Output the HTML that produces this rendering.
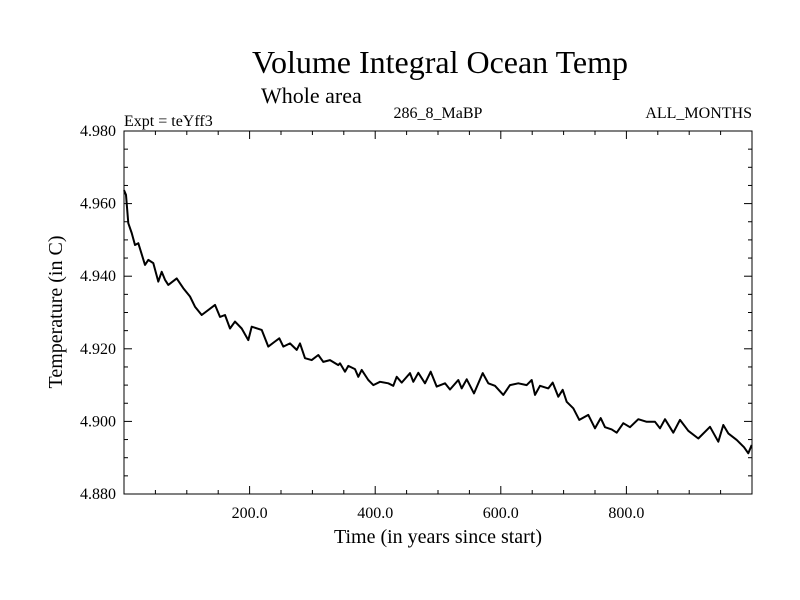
<!DOCTYPE html>
<html><head><meta charset="utf-8"><style>
html,body{margin:0;padding:0;background:#fff;}
svg{display:block;font-family:"Liberation Serif",serif;}
</style></head><body>
<svg id="chart" width="800" height="600" viewBox="0 0 800 600">
<rect x="0" y="0" width="800" height="600" fill="#fff"/>
<text x="440" y="73" font-size="32" text-anchor="middle">Volume Integral Ocean Temp</text>
<text x="261" y="103" font-size="22">Whole area</text>
<text x="124" y="126" font-size="16">Expt = teYff3</text>
<text x="438" y="118" font-size="16" text-anchor="middle">286_8_MaBP</text>
<text x="752" y="118" font-size="16" text-anchor="end">ALL_MONTHS</text>
<g id="axes"></g>
<path id="series" fill="none" stroke="#000" stroke-width="2" stroke-linejoin="round"/>
<rect x="124" y="131" width="628" height="363" fill="none" stroke="#000" stroke-width="1"/>
<text x="438" y="543" font-size="20" text-anchor="middle">Time (in years since start)</text>
<text transform="translate(62,312) rotate(-90)" font-size="20" text-anchor="middle">Temperature (in C)</text>
</svg>
<script>
const years=[0,3.2,6.8,12.3,17.5,22.8,33.4,38.7,46.7,54.6,60,65.3,70.5,83.9,94.4,105.1,113.1,123.7,144.9,152.9,160.8,168.8,176.8,187.4,197.9,203.3,219.3,229.8,240.4,247.3,253.7,264.3,275,280.3,288.2,298.9,309.4,317.4,328,341.2,343.9,351.9,357.2,367.8,373.1,378.5,389,397,407.6,420.9,428.8,434.2,442.2,455.4,460.7,468.6,479.3,488.4,497.9,511.1,519.1,532.3,537.7,545.7,557.3,571.2,580.1,590.8,604,614.6,627.9,641.2,649.2,654.5,662.4,675.6,682.6,691.6,698.6,705,715.4,725,739.3,750,759.1,765.9,776.6,784.6,795.1,805.7,819,832.3,845.5,853.5,861.5,874.7,885.4,898.6,914.5,933.1,946.3,954.3,962.3,975.6,987.3,994.1,999.5];
const temps=[4.9637,4.9624,4.9546,4.9519,4.9486,4.9491,4.9431,4.9445,4.9436,4.9385,4.9412,4.9390,4.9376,4.9394,4.9367,4.9344,4.9316,4.9293,4.9321,4.9288,4.9293,4.9256,4.9275,4.9256,4.9224,4.9261,4.9252,4.9206,4.9220,4.9229,4.9206,4.9215,4.9197,4.9215,4.9174,4.9169,4.9183,4.9164,4.9169,4.9155,4.9160,4.9137,4.9153,4.9144,4.9123,4.9142,4.9114,4.9100,4.9109,4.9105,4.9098,4.9123,4.9107,4.9133,4.9109,4.9134,4.9105,4.9137,4.9096,4.9105,4.9088,4.9114,4.9091,4.9116,4.9077,4.9133,4.9105,4.9098,4.9073,4.9100,4.9105,4.9100,4.9114,4.9073,4.9098,4.9091,4.9107,4.9068,4.9087,4.9054,4.9036,4.9004,4.9018,4.8981,4.9009,4.8984,4.8978,4.8969,4.8995,4.8984,4.9006,4.8999,4.8999,4.8981,4.9006,4.8969,4.9004,4.8974,4.8953,4.8985,4.8944,4.8990,4.8967,4.8949,4.8929,4.8912,4.8935];
const xTicks=[200,400,600,800];
const xTickLabels=["200.0","400.0","600.0","800.0"];
const yTicks=[4.88,4.90,4.92,4.94,4.96,4.98];
const yTickLabels=["4.880","4.900","4.920","4.940","4.960","4.980"];
const X0=124,X1=752,Y0=494,Y1=131,xMin=0,xMax=1000,yMin=4.88,yMax=4.98;
function sx(v){return X0+(v-xMin)/(xMax-xMin)*(X1-X0);}
function sy(v){return Y0-(v-yMin)/(yMax-yMin)*(Y0-Y1);}
const NS='http://www.w3.org/2000/svg';
const axes=document.getElementById('axes');
function line(x1,y1,x2,y2,name){const l=document.createElementNS(NS,'line');l.setAttribute('x1',x1);l.setAttribute('y1',y1);l.setAttribute('x2',x2);l.setAttribute('y2',y2);l.setAttribute('stroke','#000');l.setAttribute('stroke-width','1');


axes.appendChild(l);}
for(let v=50;v<1000;v+=50){const major=v%200===0;const len=major?8:4;const x=sx(v);
line(x,Y0,x,Y0-len,'x-tick');line(x,Y1,x,Y1+len,'x-tick-top');}
for(let i=1;i<20;i++){const v=yMin+i*0.005;const major=i%4===0;const len=major?8:4;const y=sy(v);
line(X0,y,X0+len,y,'y-tick');line(X1,y,X1-len,y,'y-tick-right');}
xTicks.forEach((v,i)=>{const t=document.createElementNS(NS,'text');t.setAttribute('x',sx(v));t.setAttribute('y',518);t.setAttribute('font-size','16');t.setAttribute('text-anchor','middle');t.textContent=xTickLabels[i];


axes.appendChild(t);});
yTicks.forEach((v,i)=>{const t=document.createElementNS(NS,'text');t.setAttribute('x',116);t.setAttribute('y',sy(v)+5);t.setAttribute('font-size','16');t.setAttribute('text-anchor','end');t.textContent=yTickLabels[i];


axes.appendChild(t);});
let d='';years.forEach((yr,i)=>{d+=(i?'L':'M')+sx(yr).toFixed(1)+','+sy(temps[i]).toFixed(1);});
document.getElementById('series').setAttribute('d',d);
</script>
</body></html>
